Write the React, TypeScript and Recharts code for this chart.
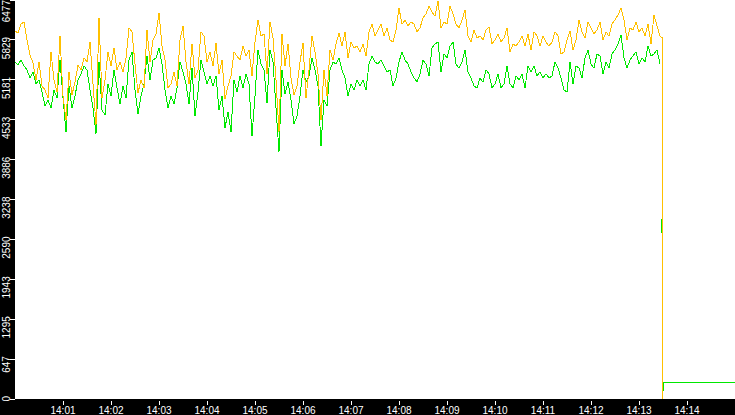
import { LineChart, Line, XAxis, YAxis, CartesianGrid } from "recharts";

// one sample every 3.75 s starting at 14:00:00
const SAMPLE_SECONDS = 3.75;

const orangeValues = [
  5974, 5941, 6087, 6120, 5828, 5584, 5455, 5179, 5471, 5081, 5016, 4886, 5633, 5179, 4984, 5893,
  4919, 4529, 5308, 4935, 5146, 5422, 5341, 5536, 5471, 5795, 5114, 4448, 6185, 4886, 5179, 5633,
  5406, 5698, 5341, 5471, 5308, 5536, 6023, 5958, 5438, 4968, 5179, 5049, 5990, 5471, 5828, 5925,
  6266, 5730, 5503, 5049, 5114, 5308, 5081, 5828, 6055, 5471, 5114, 5763, 5211, 5341, 5958, 5893,
  5471, 5633, 5406, 5779, 5276, 5503, 4870, 5081, 5244, 5633, 5568, 5503, 5730, 5568, 5665, 5244,
  5795, 6152, 5893, 5925, 5276, 6120, 5860, 5179, 4335, 5925, 5406, 5763, 5211, 4935, 5081, 5471,
  5779, 4886, 5341, 5893, 5633, 5276, 4529, 5341, 4919, 5665, 5503, 5763, 5941, 5730, 5958, 5536,
  5795, 5698, 5730, 5633, 5763, 5568, 5958, 6087, 5893, 5990, 6087, 5893, 6023, 5828, 5795, 5990,
  6347, 6087, 6152, 6055, 6120, 6087, 5958, 6023, 6185, 6250, 6380, 6282, 6217, 6461, 6023, 6120,
  6087, 6380, 6250, 6087, 6023, 6152, 6315, 5893, 5795, 5990, 5860, 5893, 5828, 5990, 6039, 5763,
  5828, 5925, 5795, 5860, 6023, 5633, 5763, 5730, 5795, 5893, 5730, 5925, 5665, 5958, 5893, 5730,
  5893, 5795, 5730, 5795, 5958, 5893, 5601, 5633, 5828, 5974, 5665, 5828, 6152, 5958, 5860, 6120,
  6023, 5925, 5990, 6120, 5828, 5958, 5893, 6087, 6152, 6234, 6347, 6152, 5828, 6023, 5990, 6120,
  5958, 6023, 5893, 6087, 5763, 6234, 6055, 5893,
];

const greenValues = [
  5471, 5422, 5503, 5406, 5341, 5211, 5308, 5114, 5179, 4984, 4757, 4854, 4724, 5016, 4886, 5503,
  4886, 4335, 5081, 4724, 4919, 5179, 5276, 5406, 5341, 5016, 4724, 4302, 5471, 4692, 4611, 5114,
  4919, 5341, 5049, 4789, 5081, 4886, 5503, 5633, 5016, 4627, 4919, 5114, 5568, 5179, 5503, 5536,
  5698, 5438, 5016, 4724, 4919, 4789, 5049, 5471, 5308, 5114, 4789, 5373, 4594, 4984, 5503, 5308,
  5114, 5244, 5081, 5244, 4692, 4919, 4400, 4659, 4335, 5179, 4984, 5244, 5049, 5276, 5114, 4270,
  4919, 5665, 5438, 5341, 4805, 5665, 5471, 4724, 4010, 5341, 4951, 5146, 4854, 4464, 4594, 4919,
  5341, 5146, 5244, 5536, 5341, 5081, 4107, 4854, 4757, 5341, 5471, 5438, 5536, 5341, 5211, 4919,
  5114, 5016, 5179, 5081, 5179, 5016, 5438, 5568, 5471, 5438, 5503, 5406, 5308, 5341, 5081, 5211,
  5471, 5633, 5503, 5438, 5308, 5211, 5146, 5276, 5503, 5438, 5244, 5698, 5763, 5795, 5308, 5601,
  5536, 5730, 5795, 5438, 5373, 5471, 5665, 5308, 5211, 5081, 5049, 5211, 5146, 5341, 5276, 5049,
  5114, 5276, 5049, 5114, 5406, 5114, 5049, 5244, 5179, 5276, 5049, 5406, 5308, 5406, 5244, 5308,
  5211, 5276, 5211, 5244, 5471, 5373, 5211, 5016, 4984, 5471, 5114, 5406, 5373, 5211, 5536, 5665,
  5438, 5373, 5601, 5568, 5276, 5471, 5373, 5601, 5665, 5763, 5909, 5536, 5373, 5503, 5568, 5633,
  5438, 5536, 5471, 5730, 5568, 5601, 5665, 5438,
];

// the feed cuts out at about 14:13:30; nulls are missing samples
const tailSeconds = [807, 808.125, 808.125, 808.5, 809.375, 809.375, 810.625, 810.625, 900];
const orangeTail = [null, null, null, null, 5860, 0, null, null, null];
const greenTail = [null, 2923, 2695, null, null, null, 131, 261, 261];

const yTicks = [0, 647, 1295, 1943, 2590, 3238, 3886, 4533, 5181, 5829, 6477];
const xTicks = [60, 120, 180, 240, 300, 360, 420, 480, 540, 600, 660, 720, 780, 840];
const xTickLabels = [
  "14:01", "14:02", "14:03", "14:04", "14:05", "14:06", "14:07",
  "14:08", "14:09", "14:10", "14:11", "14:12", "14:13", "14:14",
];

const rows = [
  ...orangeValues.map((v, i) => ({ t: i * SAMPLE_SECONDS, orange: v, green: greenValues[i] })),
  ...tailSeconds.map((t, i) => ({ t, orange: orangeTail[i], green: greenTail[i] })),
];

const FONT = "'Liberation Sans', Arial, sans-serif";

function YTick({ x, y, payload }: any) {
  const top = Math.max(y - 3, 0);
  return (
    <g>
      <line x1={x - 5} x2={x} y1={y} y2={y} stroke="#fff" shapeRendering="crispEdges" />
      <text
        transform={`translate(${x - 5},${top}) rotate(-90)`}
        textAnchor="end"
        fill="#fff"
        fontSize={10}
        fontFamily={FONT}
      >
        {payload.value}
      </text>
    </g>
  );
}

function XTick({ x, y, payload }: any) {
  const label = xTickLabels[xTicks.indexOf(payload.value)];
  return (
    <g>
      <line x1={x} x2={x} y1={y + 2} y2={y + 6} stroke="#fff" shapeRendering="crispEdges" />
      <text x={x} y={y + 15} textAnchor="middle" fill="#fff" fontSize={10} fontFamily={FONT}>
        {label}
      </text>
    </g>
  );
}

export default function App() {
  return (
    <div style={{ position: "absolute", left: 0, top: 0, width: 735, height: 415, background: "#000" }}>
      <LineChart width={735} height={415} data={rows} margin={{ top: 0, right: 0, bottom: 0, left: 0 }}>
        <CartesianGrid fill="#fff" horizontal={false} vertical={false} />
        <XAxis
          dataKey="t"
          type="number"
          domain={[0, 900]}
          ticks={xTicks}
          interval={0}
          height={16}
          axisLine={false}
          tickLine={false}
          tickSize={0}
          tickMargin={0}
          tick={<XTick />}
        />
        <YAxis
          type="number"
          domain={[0, 6477]}
          ticks={yTicks}
          interval={0}
          width={15}
          axisLine={false}
          tickLine={false}
          tickSize={0}
          tickMargin={0}
          tick={<YTick />}
        />
        <Line
          dataKey="green"
          stroke="#00e800"
          strokeWidth={1}
          dot={false}
          isAnimationActive={false}
          shapeRendering="crispEdges"
        />
        <Line
          dataKey="orange"
          stroke="#ffc000"
          strokeWidth={1}
          dot={false}
          connectNulls
          isAnimationActive={false}
          shapeRendering="crispEdges"
        />
      </LineChart>
    </div>
  );
}
